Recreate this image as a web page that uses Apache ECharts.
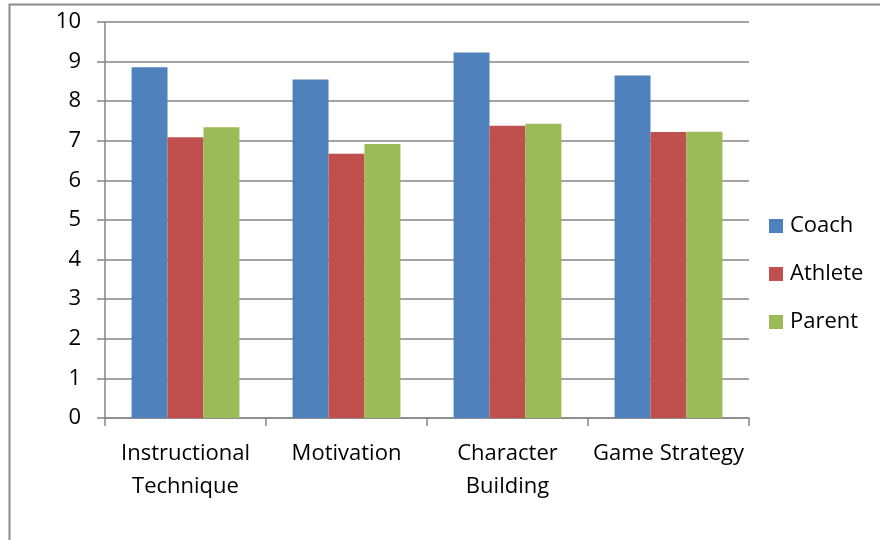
<!DOCTYPE html>
<html><head><meta charset="utf-8">
<script src="https://cdn.jsdelivr.net/npm/echarts@6/dist/echarts.min.js"></script>
<style>html,body{margin:0;padding:0;background:#fff}#c{width:880px;height:540px}</style>
</head><body><div id="c"></div>
<script>
const categories = ["Instructional\nTechnique", "Motivation", "Character\nBuilding", "Game Strategy"];
const coach = [8.86, 8.55, 9.23, 8.65];
const athlete = [7.09, 6.67, 7.38, 7.22];
const parent = [7.34, 6.92, 7.43, 7.23];
const yTicks = [0, 10, 1];

const chart = echarts.init(document.getElementById('c'), null, {renderer: 'canvas'});
const font = '"Open Sans", sans-serif';
const gray = '#868686';
chart.setOption({
  animation: false,
  textStyle: {fontFamily: font},
  graphic: [{type: 'rect', shape: {x: 9.5, y: 4.5, width: 1000, height: 1000}, style: {fill: 'none', stroke: '#8c8c8c', lineWidth: 2}, z: -1}],
  grid: {left: 105, right: 131, top: 22, bottom: 122},
  legend: {
    orient: 'vertical', left: 764, top: 210, itemWidth: 14, itemHeight: 14, itemGap: 26,
    icon: 'rect',
    textStyle: {fontSize: 22, color: '#000', fontFamily: font, padding: [0, 0, 0, 2]},
    data: ['Coach', 'Athlete', 'Parent']
  },
  xAxis: {
    type: 'category', data: categories,
    axisLine: {lineStyle: {color: gray, width: 1.5}},
    axisTick: {show: true, length: 8, lineStyle: {color: gray, width: 1.5}},
    axisLabel: {color: '#000', fontSize: 22, lineHeight: 33, margin: 19, interval: 0, fontFamily: font}
  },
  yAxis: {
    type: 'value', min: yTicks[0], max: yTicks[1], interval: yTicks[2],
    axisLine: {show: true, lineStyle: {color: gray, width: 1.5}},
    axisTick: {show: true, length: 8, lineStyle: {color: gray, width: 1.5}},
    axisLabel: {color: '#000', fontSize: 22, margin: 24, fontFamily: font},
    splitLine: {lineStyle: {color: gray, width: 1.5}}
  },
  series: [
    {name: 'Coach', type: 'bar', data: coach, itemStyle: {color: '#4F81BD'}, barGap: '0%', barCategoryGap: '33%'},
    {name: 'Athlete', type: 'bar', data: athlete, itemStyle: {color: '#C0504D'}},
    {name: 'Parent', type: 'bar', data: parent, itemStyle: {color: '#9BBB59'}}
  ]
});
</script></body></html>
